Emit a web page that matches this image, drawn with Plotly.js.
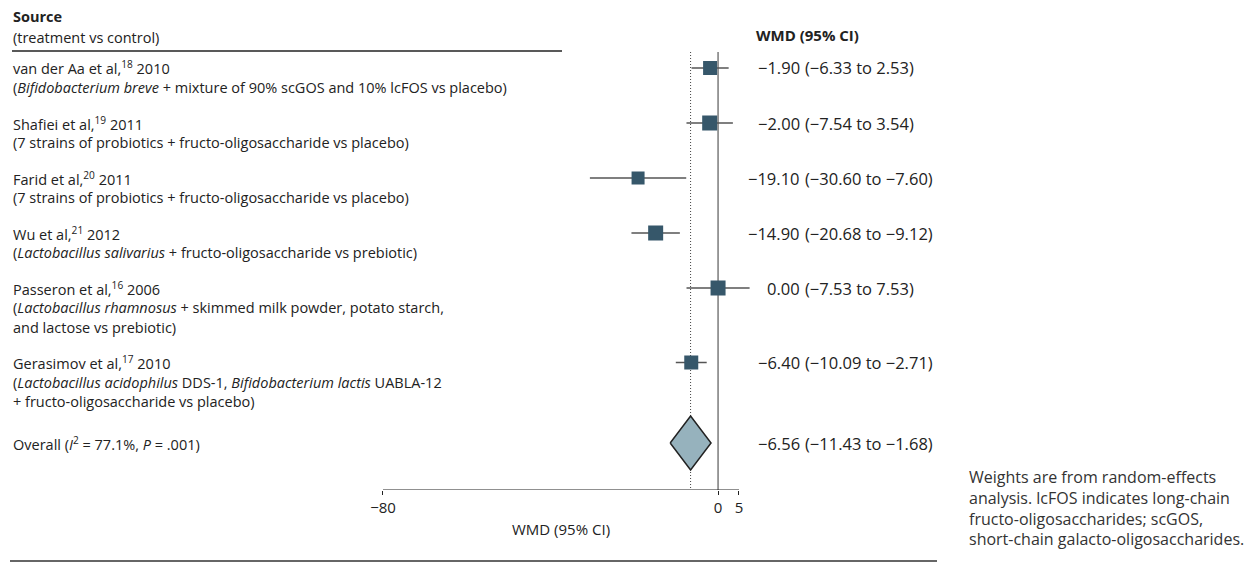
<!DOCTYPE html>
<html>
<head>
<meta charset="utf-8">
<script src="https://cdn.plot.ly/plotly-3.0.1.min.js"></script>
<style>html,body{margin:0;padding:0;background:#fff;}#chart{width:1256px;height:566px;}</style>
</head>
<body>
<div id="chart"></div>
<script>
// ---- data ----
const studyNames = [
  "van der Aa et al,<sup>18</sup> 2010",
  "Shafiei et al,<sup>19</sup> 2011",
  "Farid et al,<sup>20</sup> 2011",
  "Wu et al,<sup>21</sup> 2012",
  "Passeron et al,<sup>16</sup> 2006",
  "Gerasimov et al,<sup>17</sup> 2010"
];
const studyDetails = [
  ["(<i>Bifidobacterium breve</i> + mixture of 90% scGOS and 10% lcFOS vs placebo)"],
  ["(7 strains of probiotics + fructo-oligosaccharide vs placebo)"],
  ["(7 strains of probiotics + fructo-oligosaccharide vs placebo)"],
  ["(<i>Lactobacillus salivarius</i> + fructo-oligosaccharide vs prebiotic)"],
  ["(<i>Lactobacillus rhamnosus</i> + skimmed milk powder, potato starch,", "and lactose vs prebiotic)"],
  ["(<i>Lactobacillus acidophilus</i> DDS-1, <i>Bifidobacterium lactis</i> UABLA-12", "+ fructo-oligosaccharide vs placebo)"]
];
const wmd   = [-1.90, -2.00, -19.10, -14.90, 0.00, -6.40];
const ciLow = [-6.33, -7.54, -30.60, -20.68, -7.53, -10.09];
const ciHigh= [ 2.53,  3.54,  -7.60,  -9.12, 7.53,  -2.71];
const overallLabel = "Overall (<i>I</i><sup>2</sup> = 77.1%, <i>P</i> = .001)";
const overallWmd = -6.56, overallLow = -11.43, overallHigh = -1.68;
const tickVals = [-80, 0, 5];
const footnote = [
  "Weights are from random-effects",
  "analysis. lcFOS indicates long-chain",
  "fructo-oligosaccharides; scGOS,",
  "short-chain galacto-oligosaccharides."
];

// ---- layout helpers (pixel geometry) ----
const W = 1256, H = 566;
const FONT = "'Open Sans', 'Noto Sans', sans-serif";
const FS = 14.5;
const NUMFS = 16.5;
const TXT = "#222";
const px = v => v / W;
const py = v => 1 - v / H;
const plotTop = 52, plotBottom = 490;
const xMin = -84, xMax = 9;
const pxPerUnit = (739 - 383) / 85;
const xLeftPx = 383 + (xMin + 80) * pxPerUnit;
const xRightPx = 739 + (xMax - 5) * pxPerUnit;
const LINE = 19.5, GAP = 16, SUMGAP = 6;

// row positions (y axis in pixel units) from the number of text lines
const rowY = [];
let cur = 68;
for (let i = 0; i < studyNames.length; i++) {
  rowY.push(cur);
  cur += (1 + studyDetails[i].length) * LINE + GAP;
}
const overallY = cur + SUMGAP;
const fmt = v => v.toFixed(2).replace('-', '\u2212');

// ---- traces ----
const ciX = [], ciY = [];
wmd.forEach((v, i) => { ciX.push(ciLow[i], ciHigh[i], null); ciY.push(rowY[i], rowY[i], null); });

const traces = [
  { type: 'scatter', mode: 'lines', x: ciX, y: ciY, line: { color: '#555', width: 1.5 }, hoverinfo: 'skip', showlegend: false },
  { type: 'scatter', mode: 'markers', x: wmd, y: rowY,
    marker: { symbol: 'square', size: [14, 15, 13, 15, 15, 14], color: '#36576a', opacity: 1, line: { width: 0 } }, showlegend: false },
  { type: 'scatter', mode: 'lines', fill: 'toself',
    x: [overallLow, overallWmd, overallHigh, overallWmd, overallLow],
    y: [overallY, overallY - 27, overallY, overallY + 27, overallY],
    fillcolor: '#96b2bd', line: { color: '#222', width: 1.5 }, showlegend: false }
];

// ---- annotations ----
const ann = [];
const addText = (text, x, y, anchor, size, color) => ann.push({
  text, x: px(x), y: py(y), xref: 'paper', yref: 'paper', xanchor: anchor, yanchor: 'middle',
  align: anchor === 'right' ? 'right' : (anchor === 'center' ? 'center' : 'left'),
  showarrow: false, font: { family: FONT, size: size || FS, color: color || TXT }, borderpad: 0
});

addText("<b>Source</b>", 12, 17, 'left', 14.5);
addText("(treatment vs control)", 12, 37, 'left', 14.5);
addText("<b>WMD (95% CI)</b>", 755, 35, 'left', 15);
studyNames.forEach((n, i) => {
  addText(n, 12, rowY[i], 'left');
  studyDetails[i].forEach((d, k) => addText(d, 12, rowY[i] + (k + 1) * LINE, 'left'));
  addText(fmt(wmd[i]), 801, rowY[i], 'right', NUMFS);
  addText("(" + fmt(ciLow[i]) + " to " + fmt(ciHigh[i]) + ")", 804, rowY[i], 'left', NUMFS);
});
addText(overallLabel, 12, overallY, 'left');
addText(fmt(overallWmd), 801, overallY, 'right', NUMFS);
addText("(" + fmt(overallLow) + " to " + fmt(overallHigh) + ")", 804, overallY, 'left', NUMFS);
addText("WMD (95% CI)", 561, 529, 'center', 15);
addText(footnote.join('<br>'), 968, 508, 'left', 16, '#333');

// ---- shapes ----
const shapes = [
  { type: 'line', xref: 'paper', yref: 'paper', x0: px(12), x1: px(562), y0: py(51), y1: py(51), line: { color: '#222', width: 1.3 } },
  { type: 'line', xref: 'paper', yref: 'paper', x0: px(10), x1: px(937), y0: py(561), y1: py(561), line: { color: '#333', width: 1.3 } },
  { type: 'line', xref: 'x', yref: 'y', x0: tickVals[0], x1: tickVals[tickVals.length - 1], y0: plotBottom, y1: plotBottom, line: { color: '#222', width: 1.2 } },
  { type: 'line', xref: 'x', yref: 'y', x0: 0, x1: 0, y0: plotTop, y1: plotBottom, line: { color: '#666', width: 1.3 }, layer: 'below' },
  { type: 'line', xref: 'x', yref: 'y', x0: overallWmd, x1: overallWmd, y0: plotTop, y1: plotBottom, line: { color: '#444', width: 1, dash: '1px,2px' }, layer: 'below' }
];

const layout = {
  width: W, height: H,
  margin: { l: 0, r: 0, t: 0, b: 0 },
  paper_bgcolor: '#fff', plot_bgcolor: 'rgba(0,0,0,0)',
  showlegend: false,
  xaxis: {
    domain: [px(xLeftPx), px(xRightPx)], range: [xMin, xMax],
    tickvals: tickVals, ticks: 'outside', ticklen: 4, tickwidth: 1, tickcolor: '#222',
    showline: false, zeroline: false, showgrid: false,
    tickfont: { family: FONT, size: 15, color: TXT }
  },
  yaxis: {
    domain: [py(plotBottom), py(plotTop)], range: [plotBottom, plotTop],
    showticklabels: false, ticks: '', showline: false, zeroline: false, showgrid: false
  },
  shapes, annotations: ann
};

Plotly.newPlot('chart', traces, layout, { staticPlot: true, displayModeBar: false });
</script>
</body>
</html>
